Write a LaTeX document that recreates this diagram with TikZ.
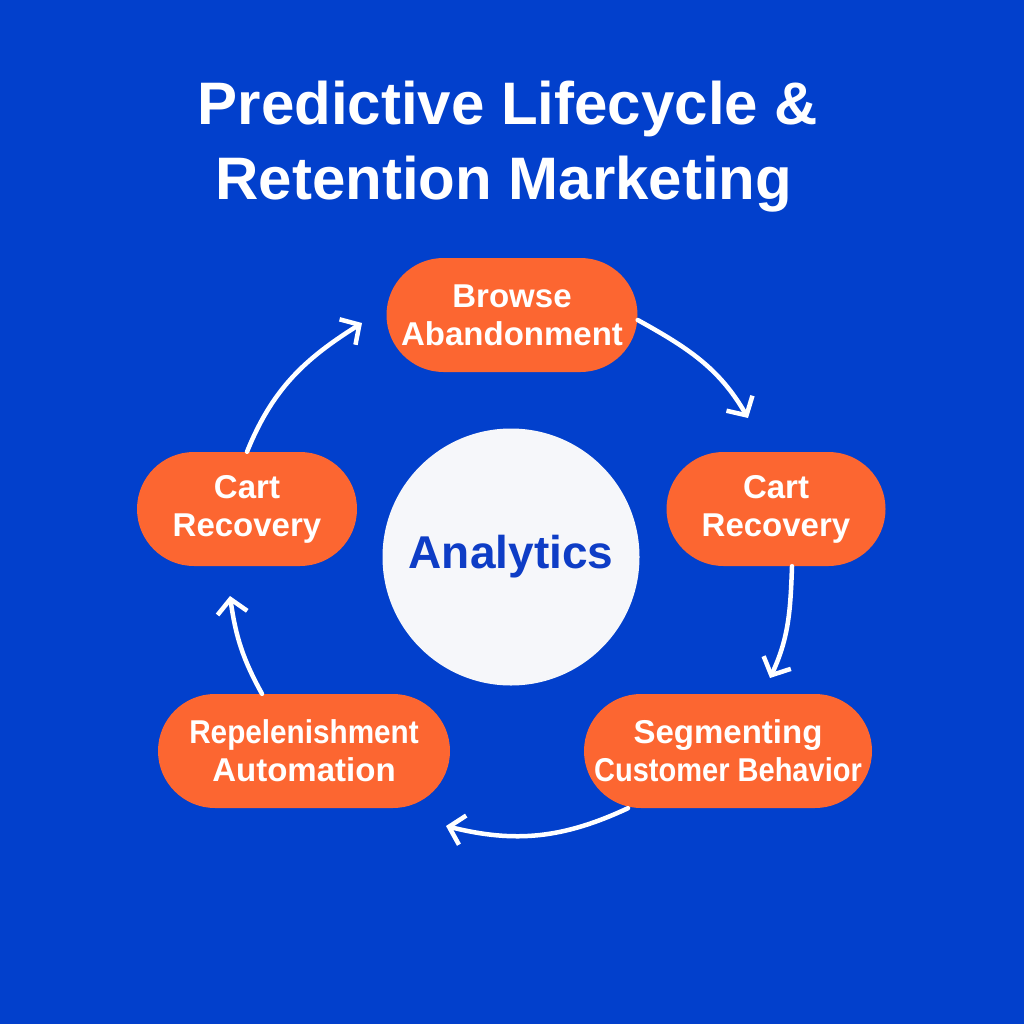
\documentclass[tikz,border=0pt]{standalone}
\usepackage{fontspec}
\setmainfont{Liberation Sans}
\usepackage{tikz}
\usetikzlibrary{shapes.misc, arrows.meta, positioning, calc}
\usepackage{xcolor}
\definecolor{bgblue}{HTML}{0240CC}
\definecolor{pillorange}{HTML}{FC6631}
\definecolor{hubwhite}{HTML}{F6F7FA}
\definecolor{hubtext}{HTML}{0E3DC6}

\begin{document}
\begin{tikzpicture}[x=1pt, y=-1pt,
    pill/.style={rounded rectangle, fill=pillorange, text=white, inner sep=0pt,
        minimum height=114pt, align=center,
        font=\fontsize{33}{38}\selectfont\bfseries},
    cyclearrow/.style={white, line width=4.5pt, line cap=round,
        -{Straight Barb[length=14pt, width=30pt, line width=4.5pt]}}]
    % Background
    \fill[bgblue] (0,0) rectangle (1024,1024);
    \useasboundingbox (0,0) rectangle (1024,1024);

    % Title
    \node[anchor=base, text=white, font=\fontsize{60}{75}\selectfont\bfseries]
        (title1) at (508,125) {Predictive Lifecycle \&};
    \node[anchor=base, text=white, font=\fontsize{60}{75}\selectfont\bfseries]
        (title2) at (504,200) {Retention Marketing};

    % Hub
    \node[circle, fill=hubwhite, minimum size=257pt, inner sep=0pt,
          text=hubtext, font=\fontsize{46}{50}\selectfont\bfseries]
        (hub) at (511,557) {Analytics};

    % Stages
    \node[pill, minimum width=251pt] (browse) at (512,315) {Browse\\Abandonment};
    \node[pill, minimum width=219pt] (rcart) at (776,509) {Cart\\Recovery};
    \node[pill, minimum width=288pt] (segment) at (728,751)
        {Segmenting\\\scalebox{0.88}[1]{Customer Behavior}};
    \node[pill, minimum width=292pt] (replen) at (304,751)
        {\scalebox{0.9}[1]{Repelenishment}\\Automation};
    \node[pill, minimum width=220pt] (lcart) at (247,509) {Cart\\Recovery};

    % Arrow tips
    \coordinate (tip1) at (748,418);
    \coordinate (tip2) at (770,678);
    \coordinate (tip3) at (446,826);
    \coordinate (tip4) at (230,596);
    \coordinate (tip5) at (362,323);

    % Cycle
    \draw[cyclearrow] ([yshift=-5pt]browse.east) to[out=-29, in=120] (tip1);
    \draw[cyclearrow] ([xshift=16pt]rcart.south) to[out=-92, in=65] (tip2);
    \draw[cyclearrow] ([xshift=-100pt]segment.south) to[out=-155, in=-14] (tip3);
    \draw[cyclearrow] ([xshift=-42pt]replen.north) to[out=119, in=-82] (tip4);
    \draw[cyclearrow] (lcart.north) to[out=68, in=-148] (tip5);
\end{tikzpicture}
\end{document}
